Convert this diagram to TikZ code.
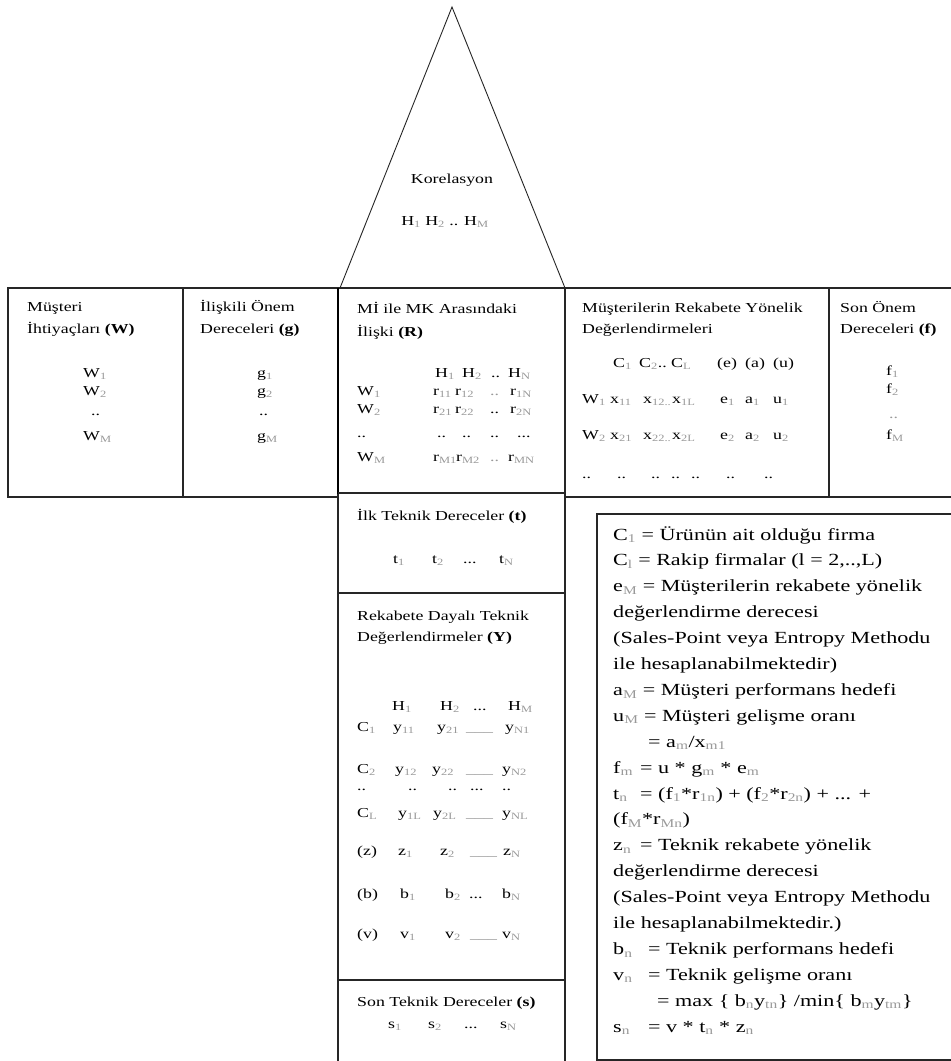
\documentclass[tikz,border=0pt]{standalone}
\usepackage{fontspec}
\setmainfont[FakeStretch=1.3]{Liberation Serif}
\usepackage{xcolor}
\newcommand\sbx[1]{\textsubscript{\color{black!40}#1}}
\newcommand\boxfont{\fontsize{13.7}{16}\selectfont}
\newcommand\legfont{\fontsize{17}{20}\selectfont}
\tikzset{
  txt/.style={anchor=base west, inner sep=0pt, font=\boxfont},
  gtxt/.style={txt, text=black!40},
  ctx/.style={anchor=base, inner sep=0pt, font=\boxfont},
  lg/.style={anchor=base west, inner sep=0pt, font=\legfont},
  frame/.style={line width=1.2pt, black!85},
  thinline/.style={line width=0.9pt, black!85}
}
\begin{document}
\begin{tikzpicture}[x=1pt,y=-1pt]
\useasboundingbox (0,0) rectangle (951,1061);
\clip (0,0) rectangle (951,1061);
\fill[white] (0,0) rectangle (951,1061);

% ---------- frames ----------
\draw[thinline] (340,288) -- (452,7) -- (565,288);
\draw[frame] (8,288) rectangle (338,497);
\draw[frame] (183,288) -- (183,497);
\draw[frame] (338,288) -- (960,288);
\draw[frame] (565,497) -- (960,497);
\draw[frame] (829,288) -- (829,497);
\draw[frame] (565,288) -- (565,1070);
\draw[frame] (338,288) -- (338,1070);
\draw[line width=2.6pt] (338,288) -- (338,494);
\draw[frame] (338,493) -- (565,493);
\draw[frame] (338,593) -- (565,593);
\draw[frame] (338,980) -- (565,980);
\draw[frame] (960,514) -- (597,514) -- (597,1060) -- (960,1060);

% ---------- triangle ----------
\node[ctx] (kor) at (452,183) {Korelasyon};
\node[ctx] (korh) at (445,225) {H\sbx{1} H\sbx{2} .. H\sbx{M}};

% ---------- customer needs ----------
\node[txt] (wt1) at (27,311) {Müşteri};
\node[txt] (wt2) at (27,333) {İhtiyaçları \textbf{(W)}};
\node[txt] (w1) at (83,377) {W\sbx{1}};
\node[txt] (w2) at (83,395) {W\sbx{2}};
\node[txt] (wd) at (91,415) {..};
\node[txt] (wm) at (83,440) {W\sbx{M}};

% ---------- importance ----------
\node[txt] (gt1) at (200,311) {İlişkili Önem};
\node[txt] (gt2) at (200,333) {Dereceleri \textbf{(g)}};
\node[txt] (g1) at (257,377) {g\sbx{1}};
\node[txt] (g2) at (257,395) {g\sbx{2}};
\node[txt] (gd) at (259,415) {..};
\node[txt] (gm) at (257,440) {g\sbx{M}};

% ---------- relationship matrix ----------
\node[txt] (rt1) at (357,313) {Mİ ile MK Arasındaki};
\node[txt] (rt2) at (357,336) {İlişki \textbf{(R)}};
\node[txt] (rh1) at (435,377) {H\sbx{1}};
\node[txt] (rh2) at (462,377) {H\sbx{2}};
\node[txt] (rhd) at (491,377) {..};
\node[txt] (rhn) at (508,377) {H\sbx{N}};
\node[txt] (rw1) at (357,395) {W\sbx{1}};
\node[txt] (r11) at (433,395) {r\sbx{11}};
\node[txt] (r12) at (455,395) {r\sbx{12}};
\node[gtxt] (r1d) at (490,395) {..};
\node[txt] (r1n) at (510,395) {r\sbx{1N}};
\node[txt] (rw2) at (357,413) {W\sbx{2}};
\node[txt] (r21) at (433,413) {r\sbx{21}};
\node[txt] (r22) at (455,413) {r\sbx{22}};
\node[txt] (r2d) at (490,413) {..};
\node[txt] (r2n) at (510,413) {r\sbx{2N}};
\node[txt] (rdd1) at (357,437) {..};
\node[txt] (rdd2) at (437,437) {..};
\node[txt] (rdd3) at (462,437) {..};
\node[txt] (rdd4) at (490,437) {..};
\node[txt] (rdd5) at (517,437) {...};
\node[txt] (rwm) at (357,461) {W\sbx{M}};
\node[txt] (rm1) at (433,461) {r\sbx{M1}};
\node[txt] (rm2) at (456,461) {r\sbx{M2}};
\node[gtxt] (rmd) at (490,461) {..};
\node[txt] (rmn) at (508,461) {r\sbx{MN}};

% ---------- competitive assessment ----------
\node[txt] (ct1) at (582,312) {Müşterilerin Rekabete Yönelik};
\node[txt] (ct2) at (582,333) {Değerlendirmeleri};
\node[txt] (cc1) at (613,367) {C\sbx{1}};
\node[txt] (cc2) at (639,367) {C\sbx{2}..};
\node[txt] (ccl) at (671,367) {C\sbx{L}};
\node[txt] (cce) at (717,367) {(e)};
\node[txt] (cca) at (745,367) {(a)};
\node[txt] (ccu) at (773,367) {(u)};
\node[txt] (cw1) at (582,403) {W\sbx{1}};
\node[txt] (cx11) at (610,403) {x\sbx{11}};
\node[txt] (cx12) at (643,403) {x\sbx{12..}};
\node[txt] (cx1l) at (672,403) {x\sbx{1L}};
\node[txt] (ce1) at (720,403) {e\sbx{1}};
\node[txt] (ca1) at (745,403) {a\sbx{1}};
\node[txt] (cu1) at (773,403) {u\sbx{1}};
\node[txt] (cw2) at (582,439) {W\sbx{2}};
\node[txt] (cx21) at (610,439) {x\sbx{21}};
\node[txt] (cx22) at (643,439) {x\sbx{22..}};
\node[txt] (cx2l) at (672,439) {x\sbx{2L}};
\node[txt] (ce2) at (720,439) {e\sbx{2}};
\node[txt] (ca2) at (745,439) {a\sbx{2}};
\node[txt] (cu2) at (773,439) {u\sbx{2}};
\node[txt] (cd1) at (582,478) {..};
\node[txt] (cd2) at (617,478) {..};
\node[txt] (cd3) at (651,478) {..};
\node[txt] (cd4) at (671,478) {..};
\node[txt] (cd5) at (691,478) {..};
\node[txt] (cd6) at (726,478) {..};
\node[txt] (cd7) at (764,478) {..};

% ---------- final importance ----------
\node[txt] (ft1) at (840,312) {Son Önem};
\node[txt] (ft2) at (840,333) {Dereceleri \textbf{(f)}};
\node[txt] (f1) at (886,375) {f\sbx{1}};
\node[txt] (f2) at (886,393) {f\sbx{2}};
\node[gtxt] (fd) at (889,418) {..};
\node[txt] (fm) at (886,439) {f\sbx{M}};

% ---------- first technical ----------
\node[txt] (tt) at (357,520) {İlk Teknik Dereceler \textbf{(t)}};
\node[txt] (t1) at (393,563) {t\sbx{1}};
\node[txt] (t2) at (432,563) {t\sbx{2}};
\node[txt] (td) at (463,563) {...};
\node[txt] (tn) at (499,563) {t\sbx{N}};

% ---------- competitive technical ----------
\node[txt] (yt1) at (357,620) {Rekabete Dayalı Teknik};
\node[txt] (yt2) at (357,641) {Değerlendirmeler \textbf{(Y)}};
\node[txt] (yh1) at (392,710) {H\sbx{1}};
\node[txt] (yh2) at (440,710) {H\sbx{2}};
\node[txt] (yhd) at (473,710) {...};
\node[txt] (yhm) at (508,710) {H\sbx{M}};
\node[txt] (yc1) at (357,731) {C\sbx{1}};
\node[txt] (y11) at (393,731) {y\sbx{11}};
\node[txt] (y21) at (437,731) {y\sbx{21}};
\node[gtxt] (y1d) at (466,731) {\_\_\_};
\node[txt] (yn1) at (505,731) {y\sbx{N1}};
\node[txt] (yc2) at (357,773) {C\sbx{2}};
\node[txt] (y12) at (395,773) {y\sbx{12}};
\node[txt] (y22) at (432,773) {y\sbx{22}};
\node[gtxt] (y2d) at (466,773) {\_\_\_};
\node[txt] (yn2) at (502,773) {y\sbx{N2}};
\node[txt] (ydd1) at (357,790) {..};
\node[txt] (ydd2) at (408,790) {..};
\node[txt] (ydd3) at (448,790) {..};
\node[txt] (ydd4) at (470,790) {...};
\node[txt] (ydd5) at (502,790) {..};
\node[txt] (ycl) at (357,817) {C\sbx{L}};
\node[txt] (y1l) at (398,817) {y\sbx{1L}};
\node[txt] (y2l) at (433,817) {y\sbx{2L}};
\node[gtxt] (yld) at (466,817) {\_\_\_};
\node[txt] (ynl) at (502,817) {y\sbx{NL}};
\node[txt] (zl) at (357,855) {(z)};
\node[txt] (z1) at (398,855) {z\sbx{1}};
\node[txt] (z2) at (440,855) {z\sbx{2}};
\node[gtxt] (zd) at (470,855) {\_\_\_};
\node[txt] (zn) at (503,855) {z\sbx{N}};
\node[txt] (bl) at (357,898) {(b)};
\node[txt] (b1) at (400,898) {b\sbx{1}};
\node[txt] (b2) at (445,898) {b\sbx{2}};
\node[txt] (bd) at (469,898) {...};
\node[txt] (bn) at (502,898) {b\sbx{N}};
\node[txt] (vl) at (357,938) {(v)};
\node[txt] (v1) at (400,938) {v\sbx{1}};
\node[txt] (v2) at (445,938) {v\sbx{2}};
\node[gtxt] (vd) at (470,938) {\_\_\_};
\node[txt] (vn) at (502,938) {v\sbx{N}};

% ---------- final technical ----------
\node[txt] (st) at (357,1006) {Son Teknik Dereceler \textbf{(s)}};
\node[txt] (s1) at (388,1028) {s\sbx{1}};
\node[txt] (s2) at (428,1028) {s\sbx{2}};
\node[txt] (sd) at (464,1028) {...};
\node[txt] (sn) at (500,1028) {s\sbx{N}};

% ---------- legend ----------
\node[lg] (l1) at (613,540) {C\sbx{1} = Ürünün ait olduğu firma};
\node[lg] (l2) at (613,565.9) {C\sbx{l} = Rakip firmalar (l = 2,..,L)};
\node[lg] (l3) at (613,591.8) {e\sbx{M} = Müşterilerin rekabete yönelik};
\node[lg] (l4) at (613,617.7) {değerlendirme derecesi};
\node[lg] (l5) at (613,643.6) {(Sales-Point veya Entropy Methodu};
\node[lg] (l6) at (613,669.5) {ile hesaplanabilmektedir)};
\node[lg] (l7) at (613,695.4) {a\sbx{M} = Müşteri performans hedefi};
\node[lg] (l8) at (613,721.3) {u\sbx{M} = Müşteri gelişme oranı};
\node[lg] (l9) at (648,747.2) {= a\sbx{m}/x\sbx{m1}};
\node[lg] (l10a) at (613,773.1) {f\sbx{m}};
\node[lg] (l10b) at (640,773.1) {= u * g\sbx{m} * e\sbx{m}};
\node[lg] (l11a) at (613,799) {t\sbx{n}};
\node[lg] (l11b) at (640,799) {= (f\sbx{1}*r\sbx{1n}) + (f\sbx{2}*r\sbx{2n}) + ... +};
\node[lg] (l12) at (613,824.9) {(f\sbx{M}*r\sbx{Mn})};
\node[lg] (l13a) at (613,850.8) {z\sbx{n}};
\node[lg] (l13b) at (640,850.8) {= Teknik rekabete yönelik};
\node[lg] (l14) at (613,876.7) {değerlendirme derecesi};
\node[lg] (l15) at (613,902.6) {(Sales-Point veya Entropy Methodu};
\node[lg] (l16) at (613,928.5) {ile hesaplanabilmektedir.)};
\node[lg] (l17a) at (613,954.4) {b\sbx{n}};
\node[lg] (l17b) at (648,954.4) {= Teknik performans hedefi};
\node[lg] (l18a) at (613,980.3) {v\sbx{n}};
\node[lg] (l18b) at (648,980.3) {= Teknik gelişme oranı};
\node[lg] (l19) at (657,1006.2) {= max \{ b\sbx{n}y\sbx{tn}\} /min\{ b\sbx{m}y\sbx{tm}\}};
\node[lg] (l20a) at (613,1032.1) {s\sbx{n}};
\node[lg] (l20b) at (648,1032.1) {= v * t\sbx{n} * z\sbx{n}};
\end{tikzpicture}
\end{document}
